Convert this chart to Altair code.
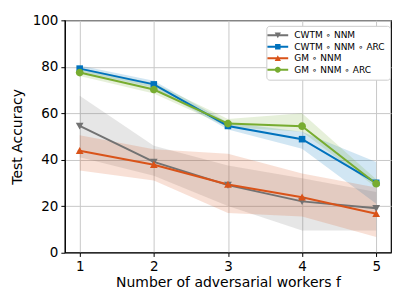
import altair as alt
import pandas as pd

workers = [1, 2, 3, 4, 5]
series_names = ["CWTM ∘ NNM", "CWTM ∘ NNM ∘ ARC", "GM ∘ NNM", "GM ∘ NNM ∘ ARC"]

cwtm_mean = [54.5, 39.0, 29.0, 22.0, 19.0]
cwtm_lo = [41.0, 33.0, 20.0, 9.5, 9.5]
cwtm_hi = [67.5, 46.0, 37.5, 32.0, 26.0]

cwtm_arc_mean = [79.2, 72.4, 54.5, 48.8, 30.0]
cwtm_arc_lo = [78.0, 71.0, 53.0, 44.7, 21.0]
cwtm_arc_hi = [80.5, 74.0, 56.0, 52.0, 39.0]

gm_mean = [43.8, 37.8, 29.3, 23.8, 16.7]
gm_lo = [35.3, 31.0, 17.0, 15.5, 6.6]
gm_hi = [50.5, 44.5, 42.5, 34.0, 28.0]

gm_arc_mean = [77.5, 70.2, 55.5, 54.4, 29.6]
gm_arc_lo = [76.0, 68.5, 54.0, 52.0, 28.0]
gm_arc_hi = [79.5, 73.0, 57.5, 60.0, 31.5]

colors = ["#727272", "#0072BD", "#D95319", "#77AC30"]
marker_paths = [
    "M-1,-0.85L1,-0.85L0,0.95Z",          # triangle down
    "M-0.85,-0.85H0.85V0.85H-0.85Z",       # square
    "M1,0.85L-1,0.85L0,-0.95Z",           # triangle up
    "M1,0A1,1,0,1,1,-1,0A1,1,0,1,1,1,0Z",  # circle
]
bar = "M-3.8,-0.36H3.8V0.36H-3.8Z "
legend_paths = [bar + p for p in [
    "M-1.15,-1L1.15,-1L0,1.1Z",
    "M-1,-1H1V1H-1Z",
    "M1.15,1L-1.15,1L0,-1.1Z",
    "M1.1,0A1.1,1.1,0,1,1,-1.1,0A1.1,1.1,0,1,1,1.1,0Z",
]]

rows = []
for name, m, lo, hi in zip(
    series_names,
    [cwtm_mean, cwtm_arc_mean, gm_mean, gm_arc_mean],
    [cwtm_lo, cwtm_arc_lo, gm_lo, gm_arc_lo],
    [cwtm_hi, cwtm_arc_hi, gm_hi, gm_arc_hi],
):
    for x, a, l, h in zip(workers, m, lo, hi):
        rows.append({"f": x, "acc": a, "lo": l, "hi": h, "series": name})
df = pd.DataFrame(rows)

xenc = alt.X("f:Q", scale=alt.Scale(domain=[0.8, 5.2], nice=False, zero=False),
             axis=alt.Axis(values=workers, title="Number of adversarial workers f",
                           format="d"))
yenc = alt.Y("acc:Q", scale=alt.Scale(domain=[0, 100], nice=False),
             axis=alt.Axis(values=[0, 20, 40, 60, 80, 100], title="Test Accuracy"))
cscale = alt.Scale(domain=series_names, range=colors)

leg = alt.Legend(title=None, orient="none", legendX=202, legendY=5.5,
                 symbolOpacity=1, symbolSize=30, labelOffset=12,
                 labelFontSize=9, labelFont="DejaVu Sans", labelColor="black",
                 rowPadding=1.5, padding=5, fillColor="white",
                 strokeColor="#cccccc", cornerRadius=3,
                 symbolStrokeWidth=0, symbolOffset=2)

base = alt.Chart(df)

legend_layer = base.mark_point(filled=True, opacity=1, size=1).encode(
    x=xenc, y=yenc,
    color=alt.Color("series:N", scale=cscale, legend=leg),
    shape=alt.Shape("series:N", scale=alt.Scale(domain=series_names, range=legend_paths),
                    legend=leg),
)

band_layers, line_layers, point_layers = [], [], []
for name, col, path in zip(series_names, colors, marker_paths):
    sub = base.transform_filter(alt.datum.series == name)
    band_layers.append(
        sub.mark_area(opacity=0.18, color=col).encode(
            x=xenc, y=alt.Y("lo:Q"), y2="hi:Q")
    )
    line_layers.append(
        sub.mark_line(strokeWidth=2, color=col).encode(x=xenc, y=yenc)
    )
    point_layers.append(
        sub.mark_point(filled=True, opacity=1, size=60, shape=path, color=col).encode(
            x=xenc, y=yenc)
    )

chart = alt.layer(legend_layer, *band_layers, *line_layers, *point_layers).properties(
    width=327, height=232.7,
    autosize=alt.AutoSizeParams(type="none"),
    padding={"left": 57, "top": 12, "right": 8, "bottom": 45},
).configure_view(
    stroke="black", strokeWidth=1.2
).configure_axis(
    labelFont="DejaVu Sans", titleFont="DejaVu Sans", labelFontSize=13.5, titleFontSize=14,
    labelColor="black", titleColor="black", titleFontWeight="normal",
    gridColor="#c8c8c8", gridWidth=1, domainColor="black", tickColor="black",
    tickSize=4, labelPadding=3,
).configure_axisX(titlePadding=3).configure_axisY(titlePadding=8)

chart.save("out.html", embed_options={"renderer": "svg", "actions": False})
